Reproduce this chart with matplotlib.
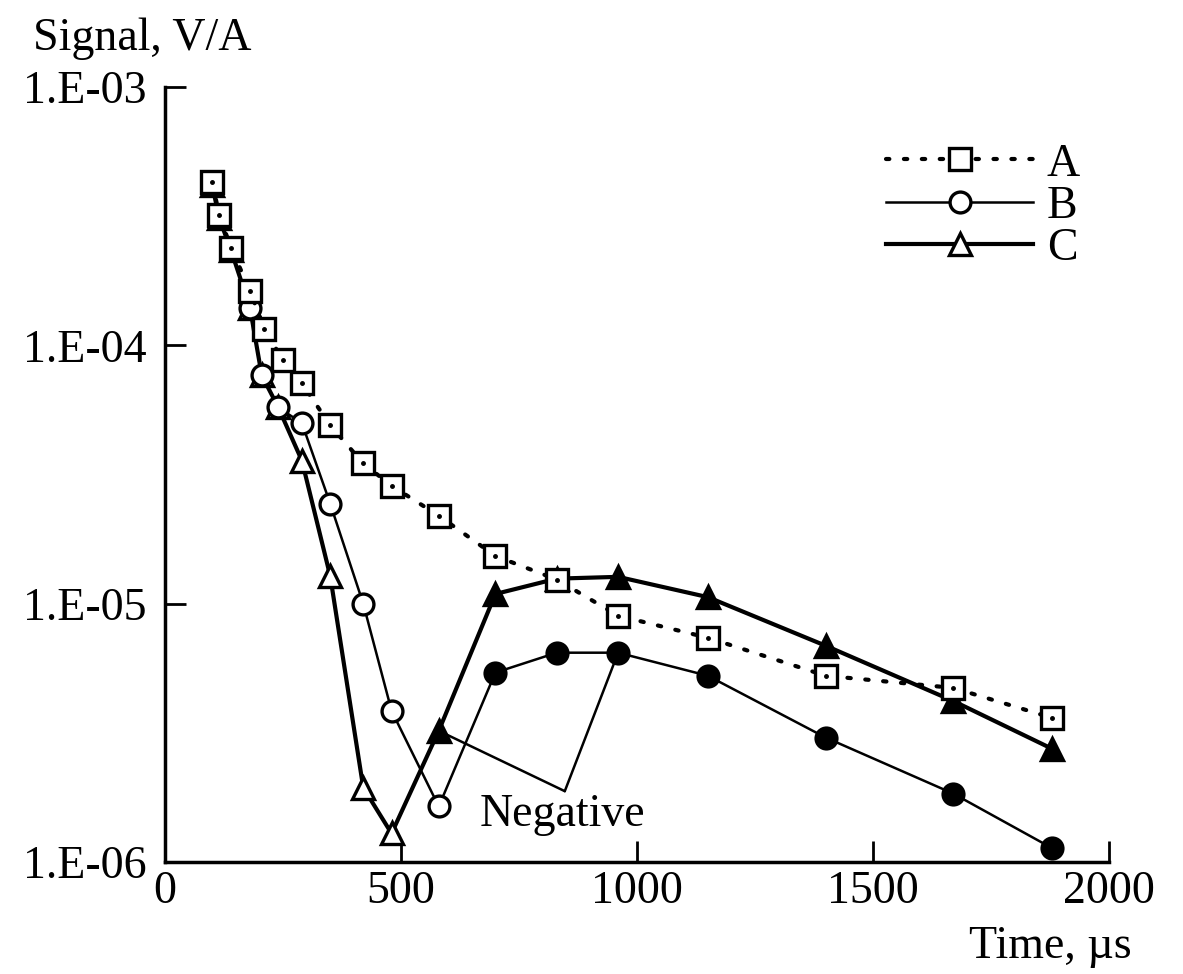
import math
import matplotlib
matplotlib.use("Agg")
import matplotlib.pyplot as plt
from matplotlib.lines import Line2D
from matplotlib.ticker import FixedLocator, FuncFormatter, NullLocator

plt.rcParams['font.family'] = ['Liberation Serif', 'DejaVu Serif']

# ---- data ----
t_A = [100, 115, 140, 180, 210, 250, 290, 350, 420, 480, 580, 700, 830, 960, 1150, 1400, 1670, 1880]
sig_A = [4.28e-4, 3.19e-4, 2.38e-4, 1.63e-4, 1.16e-4, 8.75e-5, 7.13e-5, 4.90e-5, 3.49e-5, 2.86e-5,
         2.19e-5, 1.53e-5, 1.24e-5, 8.98e-6, 7.38e-6, 5.26e-6, 4.72e-6, 3.61e-6]

t_B = [100, 115, 140, 180, 205, 240, 290, 350, 420, 480, 580, 700, 830, 960, 1150, 1400, 1670, 1880]
sig_B = [4.17e-4, 3.10e-4, 2.33e-4, 1.40e-4, 7.65e-5, 5.75e-5, 5.0e-5, 2.44e-5, 1.0e-5, 3.85e-6,
         1.64e-6, 5.41e-6, 6.46e-6, 6.46e-6, 5.26e-6, 3.03e-6, 1.84e-6, 1.13e-6]
neg_B = [False] * 11 + [True] * 7

t_C = [100, 115, 140, 180, 205, 240, 290, 350, 420, 480, 580, 700, 830, 960, 1150, 1400, 1670, 1880]
sig_C = [4.17e-4, 3.10e-4, 2.33e-4, 1.40e-4, 7.65e-5, 5.75e-5, 3.58e-5, 1.28e-5, 1.94e-6, 1.29e-6,
         3.22e-6, 1.09e-5, 1.25e-5, 1.27e-5, 1.06e-5, 6.87e-6, 4.20e-6, 2.74e-6]
neg_C = [False] * 10 + [True] * 8

labels = ["A", "B", "C"]
x_ticks = [0, 500, 1000, 1500, 2000]
y_ticks = [1e-6, 1e-5, 1e-4, 1e-3]

FS = 33

fig = plt.figure(figsize=(11.83, 9.74), dpi=100)
ax = fig.add_axes([165/1183, 1-862/974, (1109-165)/1183, (862-87)/974])

# series A (dotted, open squares with centre dot)
ax.plot(t_A, sig_A, color='black', lw=3, linestyle=(0, (0.8, 3.5)), dash_capstyle='round',
        marker='s', ms=16, mfc='white', mec='black', mew=2.4, zorder=4)
ax.plot(t_A, sig_A, linestyle='none', marker='.', ms=5, color='black', zorder=5)

# series B (thin solid, circles; filled = negative)
ax.plot(t_B, sig_B, color='black', lw=1.8, zorder=3)
for t, s, n in zip(t_B, sig_B, neg_B):
    ax.plot([t], [s], marker='o', ms=15, mfc='black' if n else 'white', mec='black', mew=2.4, zorder=3)

# series C (thick solid, triangles; filled = negative)
ax.plot(t_C, sig_C, color='black', lw=3, zorder=2)
for t, s, n in zip(t_C, sig_C, neg_C):
    ax.plot([t], [s], marker='^', ms=16, mfc='black' if n else 'white', mec='black', mew=2.4, zorder=2)

ax.set_yscale('log')
ax.set_xlim(0, 2000)
ax.set_ylim(1e-6, 1e-3)
ax.xaxis.set_major_locator(FixedLocator(x_ticks))
ax.yaxis.set_major_locator(FixedLocator(y_ticks))
ax.yaxis.set_minor_locator(NullLocator())
ax.xaxis.set_minor_locator(NullLocator())
ax.yaxis.set_major_formatter(FuncFormatter(lambda v, p: "1.E-%02d" % round(-math.log10(v))))
ax.xaxis.set_major_formatter(FuncFormatter(lambda v, p: "%d" % v))
ax.tick_params(axis='both', direction='in', length=15, width=2, labelsize=FS)
ax.tick_params(axis='y', pad=13)
ax.tick_params(axis='x', pad=6)
for side in ['top', 'right']:
    ax.spines[side].set_visible(False)
for side in ['left', 'bottom']:
    ax.spines[side].set_linewidth(2.5)

# annotation "Negative"
vx, vy = 847, 1.88e-6
ax.annotate('', xy=(t_C[10], sig_C[10]), xytext=(vx, vy),
            arrowprops=dict(arrowstyle='-', lw=1.8, color='black', shrinkA=0, shrinkB=0))
ax.annotate('', xy=(t_B[13], sig_B[13]), xytext=(vx, vy),
            arrowprops=dict(arrowstyle='-', lw=1.8, color='black', shrinkA=0, shrinkB=0))
ax.text(843, 1.52e-6, "Negative", fontsize=FS, ha='center', va='center')

# axis titles
fig.text(33/1183, 1-50/974, "Signal, V/A", fontsize=FS, ha='left', va='baseline')
fig.text(1132/1183, 1-958/974, "Time, µs", fontsize=FS, ha='right', va='baseline')

# legend
handles = [
    Line2D([], [], color='black', lw=3, linestyle=(0, (0.8, 3.5)), dash_capstyle='round',
           marker='s', ms=16, mfc='white', mec='black', mew=2.4),
    Line2D([], [], color='black', lw=1.8, marker='o', ms=15, mfc='white', mec='black', mew=2.4),
    Line2D([], [], color='black', lw=3, marker='^', ms=16, mfc='white', mec='black', mew=2.4),
]
fig.legend(handles, labels, loc='upper right', bbox_to_anchor=(1080/1183, 1-143/974),
           frameon=False, fontsize=FS, handlelength=3.2, handletextpad=0.3,
           labelspacing=0.0, borderaxespad=0, borderpad=0)

fig.savefig("out.png", dpi=100)
